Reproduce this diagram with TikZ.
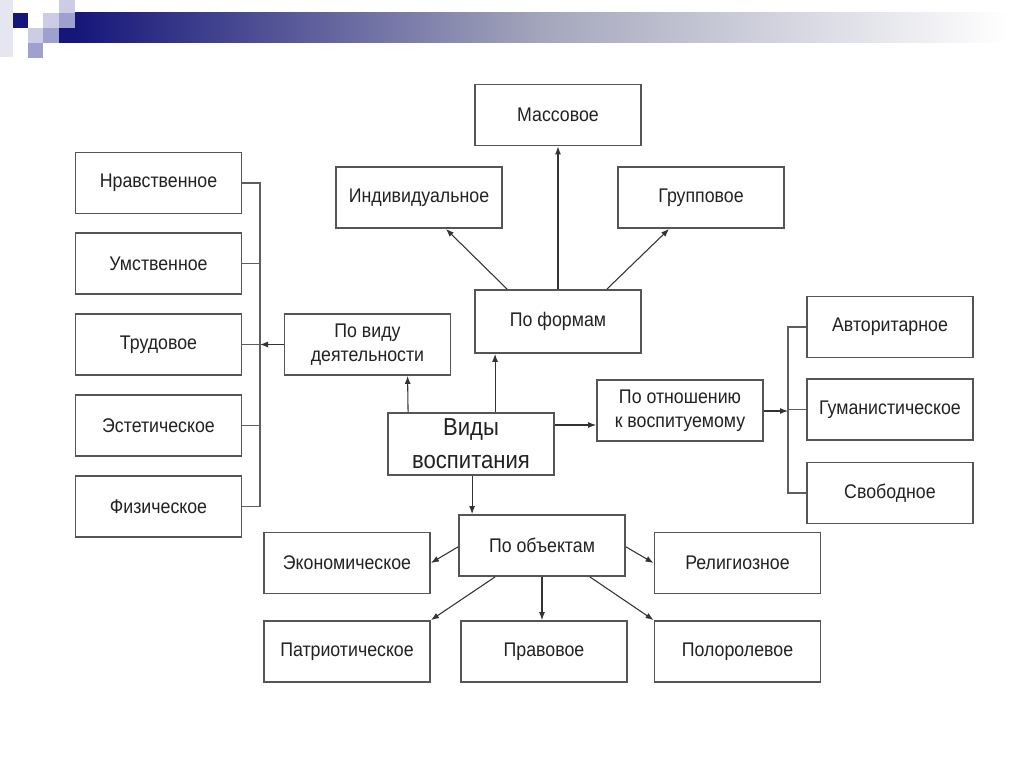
\documentclass[tikz,border=0pt]{standalone}
\usepackage{fontspec}
\setmainfont[FakeStretch=0.9]{Liberation Sans}
\usetikzlibrary{arrows.meta}
\definecolor{navy}{HTML}{16167A}
\definecolor{lav}{HTML}{A0A0CE}
\definecolor{lavl}{HTML}{CCCCE6}
\definecolor{lavvl}{HTML}{E6E6F0}
\definecolor{barmid}{HTML}{A4A6BC}
\definecolor{boxgray}{HTML}{555555}
\definecolor{linec}{HTML}{333333}
\definecolor{brgray}{HTML}{5E5E5E}
\definecolor{txt}{HTML}{222222}
\begin{document}
\begin{tikzpicture}[x=0.75pt,y=-0.75pt,
  box/.style={draw=boxgray,line width=1.4pt,fill=white,minimum width=124.5pt,
    minimum height=45.75pt,inner sep=0pt,align=center,text=txt,
    font=\fontsize{14.8}{18}\selectfont},
  bigbox/.style={box,minimum height=46.5pt,font=\fontsize{18.4}{25}\selectfont},
  arr/.style={draw=linec,line width=0.8pt,-{Latex[length=6pt,width=4.5pt]}},
  brk/.style={draw=brgray,line width=1.3pt}]
\useasboundingbox (0,0) rectangle (1024,767);
\fill[white] (0,0) rectangle (1024,767);
% top decoration
\fill[lavvl] (0,0) rectangle (13,57);
\fill[navy] (13,13) rectangle (28,28);
\fill[lavl] (28,28) rectangle (43,43);
\fill[lav] (28,43) rectangle (43,58);
\fill[lavl] (43,13) rectangle (59,28);
\fill[lav] (43,28) rectangle (59,43);
\fill[lavl] (59,0) rectangle (75,13);
\fill[lav] (59,13) rectangle (75,28);
\fill[navy] (59,28) rectangle (75,43);
\shade[left color=navy,right color=white,middle color=barmid] (75,13) rectangle (1008,43);
% left column
\node[box] (nrav) at (158.5,183) {Нравственное};
\node[box] (umst) at (158.5,263.5) {Умственное};
\node[box] (trud) at (158.5,344.5) {Трудовое};
\node[box] (est)  at (158.5,425.5) {Эстетическое};
\node[box] (fiz)  at (158.5,506.5) {Физическое};
\node[box] (povidu) at (367.5,344.5) {По виду\\деятельности};
% top
\node[box] (individ) at (419,197.5) {Индивидуальное};
\node[box] (mass) at (558,115) {Массовое};
\node[box] (grupp) at (701,197.5) {Групповое};
\node[box,minimum height=47.25pt] (poform) at (558,321.5) {По формам};
% center
\node[bigbox] (vidy) at (471,444) {Виды\\воспитания};
\node[box] (pootn) at (680,410.5) {По отношению\\к воспитуемому};
% right
\node[box] (avt) at (890,327) {Авторитарное};
\node[box] (gum) at (890,409.5) {Гуманистическое};
\node[box] (svob) at (890,493) {Свободное};
% bottom
\node[box] (poobj) at (542,545.5) {По объектам};
\node[box] (ekon) at (347,563) {Экономическое};
\node[box] (relig) at (737.5,563) {Религиозное};
\node[box] (patr) at (347,651.5) {Патриотическое};
\node[box] (prav) at (544,651.5) {Правовое};
\node[box] (polo) at (737.5,651.5) {Полоролевое};
% coordinates for brackets
\coordinate (lb) at (260,0);
\coordinate (rb) at (788,0);
\coordinate (ya) at (0,425);
\coordinate (yb) at (0,411);
% left bracket
\draw[brk] (nrav.east) -- (nrav.east -| lb) -- (fiz.east -| lb) -- (fiz.east);
\draw[brk] (umst.east) -- (umst.east -| lb);
\draw[brk] (trud.east) -- (trud.east -| lb);
\draw[brk] (est.east) -- (est.east -| lb);
\draw[arr] (povidu.west) -- (povidu.west -| lb);
% right bracket
\draw[brk] (avt.west) -- (avt.west -| rb) -- (svob.west -| rb) -- (svob.west);
\draw[brk] (gum.west) -- (gum.west -| rb);
\draw[arr] (pootn.east |- yb) -- (rb |- yb);
% from vidy
\draw[arr] ([xshift=15.75pt]vidy.north west) -- ([xshift=93pt]povidu.south west);
\draw[arr] ([xshift=81pt]vidy.north west) -- ([xshift=15.75pt]poform.south west);
\draw[arr] (vidy.east |- ya) -- (pootn.west |- ya);
\draw[arr] ([xshift=63.75pt]vidy.south west) -- ([xshift=10.5pt]poobj.north west);
% from poform
\draw[arr] ([xshift=24.75pt]poform.north west) -- ([xshift=-42.75pt]individ.south east);
\draw[arr] (poform.north) -- (mass.south);
\draw[arr] ([xshift=-26.25pt]poform.north east) -- ([xshift=39pt]grupp.south west);
% from poobj
\draw[arr] ([yshift=-1pt]poobj.west) -- (ekon.east);
\draw[arr] ([yshift=-1pt]poobj.east) -- (relig.west);
\draw[arr] ([xshift=27.75pt]poobj.south west) -- (patr.north east);
\draw[arr] (poobj.south) -- (poobj.south |- prav.north);
\draw[arr] ([xshift=-27pt]poobj.south east) -- (polo.north west);
\end{tikzpicture}
\end{document}
